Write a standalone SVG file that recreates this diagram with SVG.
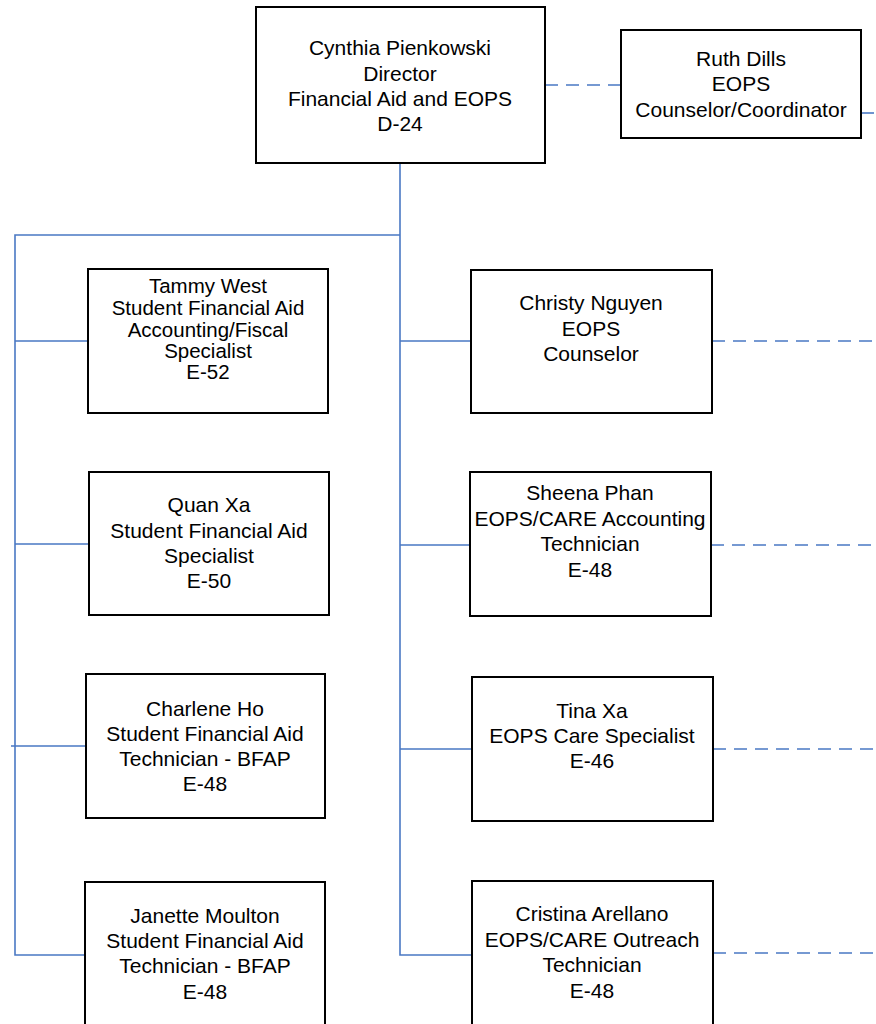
<svg xmlns="http://www.w3.org/2000/svg" width="876" height="1024" viewBox="0 0 876 1024">
<style>
.box{fill:#fff;stroke:#000;stroke-width:2}
.t{font-family:"Liberation Sans",Arial,sans-serif;font-size:21px;fill:#000;text-anchor:middle}
.ln{fill:none;stroke:#4a78c4;stroke-width:1.6}
.dl{fill:none;stroke:#4a78c4;stroke-width:1.6;stroke-dasharray:13 8}
</style>
<rect width="876" height="1024" fill="#fff"/>
<g id="connectors">
<path class="ln" d="M400 163 V955 H472"/>
<path class="ln" d="M400 235 H15 V955 H85"/>
<path class="ln" d="M15 341 H88 M15 544 H89 M11 746 H86"/>
<path class="ln" d="M400 341 H471 M400 545 H470 M400 749 H472"/>
<path class="dl" d="M545 85 H621"/>
<path class="dl" d="M861 113 H876"/>
<path class="dl" d="M712 341 H876 M711 545 H876 M713 749 H876 M713 953 H876"/>
</g>
<g id="director"><rect class="box" x="256" y="7" width="289" height="156"/>
<text class="t"><tspan x="400" y="55">Cynthia Pienkowski</tspan><tspan x="400" y="81">Director</tspan><tspan x="400" y="106">Financial Aid and EOPS</tspan><tspan x="400" y="131">D-24</tspan></text></g>
<g id="ruth"><rect class="box" x="621" y="30" width="240" height="108"/>
<text class="t"><tspan x="741" y="66">Ruth Dills</tspan><tspan x="741" y="91">EOPS</tspan><tspan x="741" y="117">Counselor/Coordinator</tspan></text></g>
<g id="tammy"><rect class="box" x="88" y="269" width="240" height="144"/>
<text class="t" style="font-size:20.5px"><tspan x="208" y="293">Tammy West</tspan><tspan x="208" y="315">Student Financial Aid</tspan><tspan x="208" y="337">Accounting/Fiscal</tspan><tspan x="208" y="358">Specialist</tspan><tspan x="208" y="379">E-52</tspan></text></g>
<g id="quan"><rect class="box" x="89" y="472" width="240" height="143"/>
<text class="t"><tspan x="209" y="512">Quan Xa</tspan><tspan x="209" y="538">Student Financial Aid</tspan><tspan x="209" y="563">Specialist</tspan><tspan x="209" y="588">E-50</tspan></text></g>
<g id="charlene"><rect class="box" x="86" y="674" width="239" height="144"/>
<text class="t"><tspan x="205" y="716">Charlene Ho</tspan><tspan x="205" y="741">Student Financial Aid</tspan><tspan x="205" y="766">Technician - BFAP</tspan><tspan x="205" y="791">E-48</tspan></text></g>
<g id="janette"><rect class="box" x="85" y="882" width="240" height="150"/>
<text class="t"><tspan x="205" y="923">Janette Moulton</tspan><tspan x="205" y="948">Student Financial Aid</tspan><tspan x="205" y="973">Technician - BFAP</tspan><tspan x="205" y="999">E-48</tspan></text></g>
<g id="christy"><rect class="box" x="471" y="270" width="241" height="143"/>
<text class="t"><tspan x="591" y="310">Christy Nguyen</tspan><tspan x="591" y="336">EOPS</tspan><tspan x="591" y="361">Counselor</tspan></text></g>
<g id="sheena"><rect class="box" x="470" y="472" width="241" height="144"/>
<text class="t"><tspan x="590" y="500">Sheena Phan</tspan><tspan x="590" y="526">EOPS/CARE Accounting</tspan><tspan x="590" y="551">Technician</tspan><tspan x="590" y="577">E-48</tspan></text></g>
<g id="tina"><rect class="box" x="472" y="677" width="241" height="144"/>
<text class="t"><tspan x="592" y="718">Tina Xa</tspan><tspan x="592" y="743">EOPS Care Specialist</tspan><tspan x="592" y="768">E-46</tspan></text></g>
<g id="cristina"><rect class="box" x="472" y="881" width="241" height="150"/>
<text class="t"><tspan x="592" y="921">Cristina Arellano</tspan><tspan x="592" y="947">EOPS/CARE Outreach</tspan><tspan x="592" y="972">Technician</tspan><tspan x="592" y="998">E-48</tspan></text></g>
</svg>
